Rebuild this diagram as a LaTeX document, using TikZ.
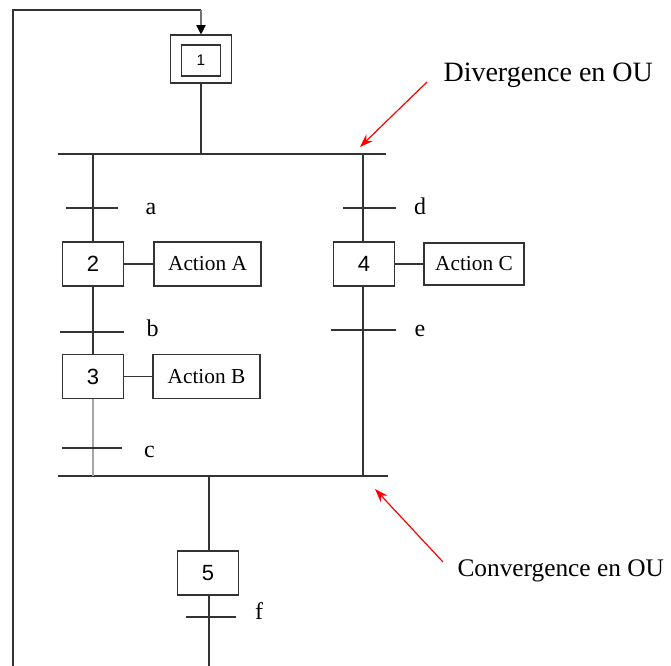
\documentclass[tikz,border=0pt]{standalone}
\usepackage{fontspec}
\setmainfont{Liberation Serif}
\newfontfamily\numfont{Liberation Sans}
\usetikzlibrary{arrows.meta}
\begin{document}
\begin{tikzpicture}[x=0.75pt,y=-0.75pt,line width=0.8pt,
  ln/.style={draw=black!80},
  stepbox/.style={draw=black!80,minimum width=45.75pt,minimum height=33pt,inner sep=0pt,font=\numfont\fontsize{16.5}{18}\selectfont},
  actbox/.style={draw=black!80,minimum height=33pt,inner sep=0pt,font=\fontsize{16}{18}\selectfont},
  trlabel/.style={anchor=base,inner sep=0pt,font=\fontsize{18}{20}\selectfont},
  note/.style={anchor=base west,inner sep=0pt},
  redarrow/.style={draw=red,line width=0.9pt,-{Stealth[length=10pt,width=7pt]}}]
\useasboundingbox (0,0) rectangle (671,666);
% initial step
\node[draw=black!80,minimum width=45.75pt,minimum height=36pt,inner sep=0pt] (b1o) at (201,59) {};
\node[draw=black!80,minimum width=29.25pt,minimum height=23.25pt,inner sep=0pt,font=\numfont\fontsize{11.5}{12}\selectfont] (b1) at (201,60.5) {1};
% loop back
\coordinate (loopB) at (13,666);
\coordinate (loopTL) at (13,10);
\coordinate (loopTR) at (201,10);
\draw[ln] (loopB) -- (loopTL) -- (loopTR);
\draw[draw=black!55] (loopTR) -- ++(0,17);
\draw[draw=black!55,-{Triangle[length=7pt,width=7pt,fill=black,color=black]}] (loopTR) -- (b1o.north);
% divergence bar
\coordinate (divL) at (58,154);
\coordinate (divR) at (386,154);
\draw[ln] (divL) -- (divR);
\draw[ln] (b1o.south) -- (b1o.south |- divL);
% steps
\node[stepbox] (s2) at (93,264) {2};
\node[stepbox] (s3) at (93,376.5) {3};
\node[stepbox] (s4) at (364,264) {4};
\node[stepbox] (s5) at (208,573) {5};
\node[actbox,minimum width=80.25pt] (aA) at (207.5,264) {Action A};
\node[actbox,minimum width=80.25pt] (aB) at (206.5,376.5) {Action B};
\node[actbox,minimum width=75pt,minimum height=31.5pt] (aC) at (474,264) {Action C};
\draw[ln] (s2.east) -- (aA.west);
\draw[ln] (s3.east) -- (aB.west);
\draw[ln] (s4.east) -- (aC.west);
% convergence bar
\coordinate (conL) at (58,476);
\coordinate (conR) at (388,476);
\draw[ln] (conL) -- (conR);
% left branch
\draw[ln] (s2.north |- divL) -- (s2.north);
\draw[ln] (s2.south) -- (s3.north);
\draw[draw=black!35] (s3.south) -- (s3.south |- conL);
% right branch
\coordinate (rb) at (363,154);
\draw[ln] (rb) -- (rb |- s4.north);
\draw[ln] (rb |- s4.south) -- (rb |- conL);
% middle
\coordinate (mb) at (209,476);
\coordinate (mbEnd) at (209,666);
\draw[ln] (mb) -- (mb |- s5.north);
\draw[ln] (mb |- s5.south) -- (mbEnd);
% transitions
\coordinate (ta1) at (66,208); \coordinate (ta2) at (118,208);
\coordinate (tb1) at (60,332); \coordinate (tb2) at (124,332);
\coordinate (tc1) at (62,448); \coordinate (tc2) at (122,448);
\coordinate (td1) at (343,208); \coordinate (td2) at (396,208);
\coordinate (te1) at (331,330); \coordinate (te2) at (396,330);
\coordinate (tf1) at (186,617); \coordinate (tf2) at (236,617);
\foreach \t in {a,b,c,d,e,f}{\draw[ln] (t\t1) -- (t\t2);}
\node[trlabel] (la) at (151,215) {a};
\node[trlabel] (lb) at (152.5,337) {b};
\node[trlabel] (lc) at (149.5,457) {c};
\node[trlabel] (ld) at (420,215) {d};
\node[trlabel] (le) at (420,337) {e};
\node[trlabel] (lf) at (259,619) {f};
% annotations
\node[note,font=\fontsize{21}{24}\selectfont] (divtxt) at (443,82) {Divergence en OU};
\node[note,font=\fontsize{19}{22}\selectfont] (contxt) at (457,576) {Convergence en OU};
\coordinate (dA) at (427,82); \coordinate (dT) at (360,147);
\coordinate (cA) at (443,562); \coordinate (cT) at (375,489);
\draw[redarrow] (dA) -- (dT);
\draw[redarrow] (cA) -- (cT);
\end{tikzpicture}
\end{document}
